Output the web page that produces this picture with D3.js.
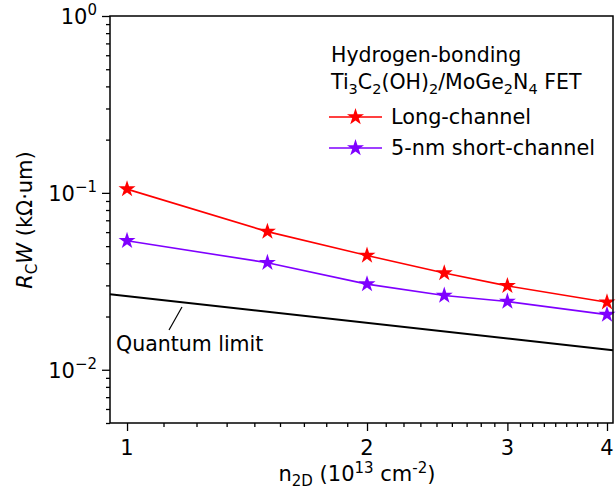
<!DOCTYPE html>
<html>
<head>
<meta charset="utf-8">
<script src="https://cdn.jsdelivr.net/npm/d3@7"></script>
<style>
  body { margin: 0; background: white; }
  text { font-family: "DejaVu Sans", sans-serif; }
</style>
</head>
<body>
<div id="container"></div>
<script>
let w = 616;
let h = 494;

// DATA
let nValues = [1, 1.5, 2, 2.5, 3, 4];
let longChannel = [0.105, 0.0604, 0.0443, 0.0352, 0.0298, 0.0241];
let shortChannel = [0.0536, 0.0403, 0.0305, 0.0263, 0.0243, 0.0205];
let limitN = [0.952, 4.07];
let limitValues = [0.0267, 0.0129];
let xTickValues = [1, 2, 3, 4];
let yTickValues = [1e-2, 1e-1, 1];
let yTickExps = ["\u22122", "\u22121", "0"];

let padL = 110, padR = 613, padT = 16, padB = 423;

let viz = d3.select("#container").append("svg")
    .attr("width", w)
    .attr("height", h)
    .style("background-color", "white");

// SCALES
let xScale = d3.scaleLog().domain([0.952, 4.07]).range([padL, padR]);
let yScale = d3.scaleLog().domain([0.005, 1]).range([padB, padT]);

// minor ticks
let xMinor = [];
[1, 2, 3, 4].forEach(function(i){
  for (let k = 1; k < 9; k++) {
    let v = i + k / 9;
    if (v < 4.07) xMinor.push(v);
  }
});
let yMinor = [];
[-3, -2, -1].forEach(function(e){
  for (let k = 2; k < 10; k++) {
    let v = k * Math.pow(10, e);
    if (v >= 0.005 && v < 1) yMinor.push(v);
  }
});

function styleAxis(g){
  g.select(".domain").remove();
  g.selectAll("line").attr("stroke", "black").attr("stroke-width", 1.3);
}

viz.append("g").attr("transform", "translate(0," + padB + ")")
  .call(d3.axisBottom(xScale).tickValues(xTickValues).tickSize(8).tickFormat(""))
  .call(styleAxis);
viz.append("g").attr("transform", "translate(0," + padB + ")")
  .call(d3.axisBottom(xScale).tickValues(xMinor).tickSize(4).tickFormat(""))
  .call(styleAxis);
viz.append("g").attr("transform", "translate(" + padL + ",0)")
  .call(d3.axisLeft(yScale).tickValues(yTickValues).tickSize(8).tickFormat(""))
  .call(styleAxis);
viz.append("g").attr("transform", "translate(" + padL + ",0)")
  .call(d3.axisLeft(yScale).tickValues(yMinor).tickSize(4).tickFormat(""))
  .call(styleAxis);

// tick labels
viz.selectAll(".xlab").data(xTickValues).enter()
  .append("text")
    .attr("class", "xlab")
    .attr("x", function(d){ return xScale(d); })
    .attr("y", 455)
    .attr("text-anchor", "middle")
    .attr("font-size", 21)
    .text(function(d){ return d; });

let yl = viz.selectAll(".ylab").data(yTickValues).enter()
  .append("text")
    .attr("class", "ylab")
    .attr("x", 97)
    .attr("y", function(d){ return yScale(d) + 8; })
    .attr("text-anchor", "end")
    .attr("font-size", 21);
yl.append("tspan").text("10");
yl.append("tspan")
  .attr("dy", -9)
  .attr("font-size", 15)
  .text(function(d, i){ return yTickExps[i]; });

// LINES
let lineMaker = d3.line()
  .x(function(d){ return xScale(d[0]); })
  .y(function(d){ return yScale(d[1]); });

viz.append("path")
  .attr("d", lineMaker(d3.zip(limitN, limitValues)))
  .attr("fill", "none")
  .attr("stroke", "black")
  .attr("stroke-width", 2);

let series = [
  { values: longChannel, color: "#ff0000" },
  { values: shortChannel, color: "#7f00ff" }
];
let star = d3.symbol().type(d3.symbolStar).size(90);

series.forEach(function(s){
  let pts = d3.zip(nValues, s.values);
  viz.append("path")
    .attr("d", lineMaker(pts))
    .attr("fill", "none")
    .attr("stroke", s.color)
    .attr("stroke-width", 1.6);
  viz.selectAll(null).data(pts).enter()
    .append("path")
      .attr("d", star)
      .attr("transform", function(d){ return "translate(" + xScale(d[0]) + "," + yScale(d[1]) + ")"; })
      .attr("fill", s.color);
});

// frame
viz.append("rect")
  .attr("x", padL).attr("y", padT)
  .attr("width", padR - padL).attr("height", padB - padT)
  .attr("fill", "none")
  .attr("stroke", "black")
  .attr("stroke-width", 1.5);

// quantum limit annotation
viz.append("line")
  .attr("x1", 169).attr("y1", 330)
  .attr("x2", 182).attr("y2", 307)
  .attr("stroke", "black")
  .attr("stroke-width", 1.2);
viz.append("text")
  .attr("x", 116).attr("y", 351)
  .attr("font-size", 20.5)
  .text("Quantum limit");

// legend
viz.append("text").attr("x", 331).attr("y", 62).attr("font-size", 20.5)
  .text("Hydrogen-bonding");
let t2 = viz.append("text").attr("x", 331).attr("y", 89).attr("font-size", 20.5);
[["Ti", 0], ["3", 1], ["C", 0], ["2", 1], ["(OH)", 0], ["2", 1], ["/MoGe", 0], ["2", 1], ["N", 0], ["4", 1], [" FET", 0]]
  .forEach(function(p, i, arr){
    let prev = i > 0 ? arr[i - 1][1] : 0;
    t2.append("tspan")
      .attr("dy", (p[1] - prev) * 5)
      .attr("font-size", p[1] ? 14.5 : 20.5)
      .text(p[0]);
  });

let legendItems = [
  { label: "Long-channel", color: "#ff0000", y: 117 },
  { label: "5-nm short-channel", color: "#7f00ff", y: 148 }
];
legendItems.forEach(function(d){
  viz.append("line")
    .attr("x1", 329).attr("x2", 382)
    .attr("y1", d.y).attr("y2", d.y)
    .attr("stroke", d.color)
    .attr("stroke-width", 1.6);
  viz.append("path")
    .attr("d", star)
    .attr("transform", "translate(355.5," + d.y + ")")
    .attr("fill", d.color);
  viz.append("text")
    .attr("x", 391).attr("y", d.y + 7)
    .attr("font-size", 20.8)
    .text(d.label);
});

// axis titles
let xt = viz.append("text")
  .attr("x", 357).attr("y", 481)
  .attr("text-anchor", "middle")
  .attr("font-size", 21);
xt.append("tspan").text("n");
xt.append("tspan").attr("dy", 5).attr("font-size", 15).text("2D");
xt.append("tspan").attr("dy", -5).text(" (10");
xt.append("tspan").attr("dy", -8).attr("font-size", 15).text("13");
xt.append("tspan").attr("dy", 8).text(" cm");
xt.append("tspan").attr("dy", -8).attr("font-size", 15).text("-2");
xt.append("tspan").attr("dy", 8).text(")");

let yt = viz.append("text")
  .attr("transform", "translate(32,220) rotate(-90)")
  .attr("text-anchor", "middle")
  .attr("font-size", 21);
yt.append("tspan").attr("font-style", "italic").text("R");
yt.append("tspan").attr("dy", 5).attr("font-size", 15).text("C");
yt.append("tspan").attr("dy", -5).attr("font-style", "italic").text("W");
yt.append("tspan").text(" (k\u03a9\u00b7um)");
</script>
</body>
</html>
